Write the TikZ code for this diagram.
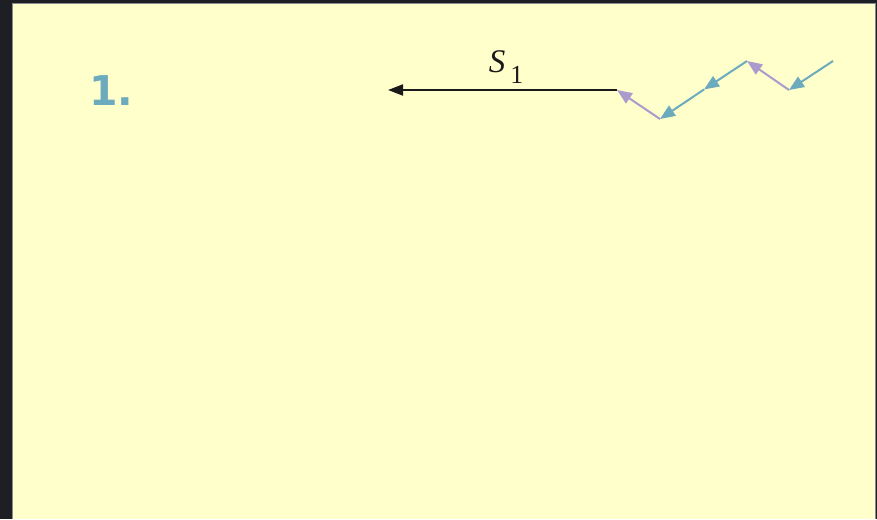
\documentclass[tikz,border=0pt]{standalone}
\usepackage{fontspec}
\setmainfont{Liberation Serif}
\newfontfamily\numfont{DejaVu Sans}
\usetikzlibrary{arrows.meta}
\definecolor{darkbg}{HTML}{1E1F24}
\definecolor{panel}{HTML}{FFFFCC}
\definecolor{panelborder}{HTML}{8C8C90}
\definecolor{tealc}{HTML}{6CAABE}
\definecolor{purplec}{HTML}{AA9BCD}
\definecolor{inkc}{HTML}{1A1A1A}
\tikzset{
  tip/.style={-{Triangle[length=15pt,width=12pt]}},
  tealseg/.style={tip, draw=tealc, fill=tealc, line width=2pt},
  purpleseg/.style={tip, draw=purplec, fill=purplec, line width=2pt},
  blackseg/.style={-{Triangle[length=15pt,width=11pt]}, draw=inkc, line width=2pt},
}
\begin{document}
\begin{tikzpicture}[x=1pt,y=-1pt]
\useasboundingbox (0,0) rectangle (877,519);
\fill[darkbg] (0,0) rectangle (877,519);
\fill[panel] (12.5,3.5) rectangle (875.5,519);
\draw[panelborder, line width=1.2pt] (12.5,519) -- (12.5,3.5) -- (875.5,3.5) -- (875.5,519);

\node[text=tealc, font=\numfont\bfseries\fontsize{41}{41}\selectfont, anchor=base west, inner sep=0pt] (num) at (89,105.5) {1.};

% zigzag points
\coordinate (z0) at (833,61);
\coordinate (z1) at (789,90);
\coordinate (z2) at (747,61);
\coordinate (zm) at (704,89.5);
\coordinate (z3) at (660,119);
\coordinate (z4) at (617,90);
\coordinate (z5) at (388,90);

\draw[tealseg] (z0) -- (z1);
\draw[purpleseg] (z1) -- (z2);
\draw[tealseg] (z2) -- (zm);
\draw[tealseg] (zm) -- (z3);
\draw[purpleseg] (z3) -- (z4);
\draw[blackseg] (z4) -- (z5);

\node[anchor=base, inner sep=0pt, text=inkc] (lbl) at (506,72)
  {\fontsize{33}{33}\selectfont\itshape S\hspace{5pt}\raisebox{-11pt}{\fontsize{26}{26}\selectfont\upshape 1}};
\end{tikzpicture}
\end{document}
